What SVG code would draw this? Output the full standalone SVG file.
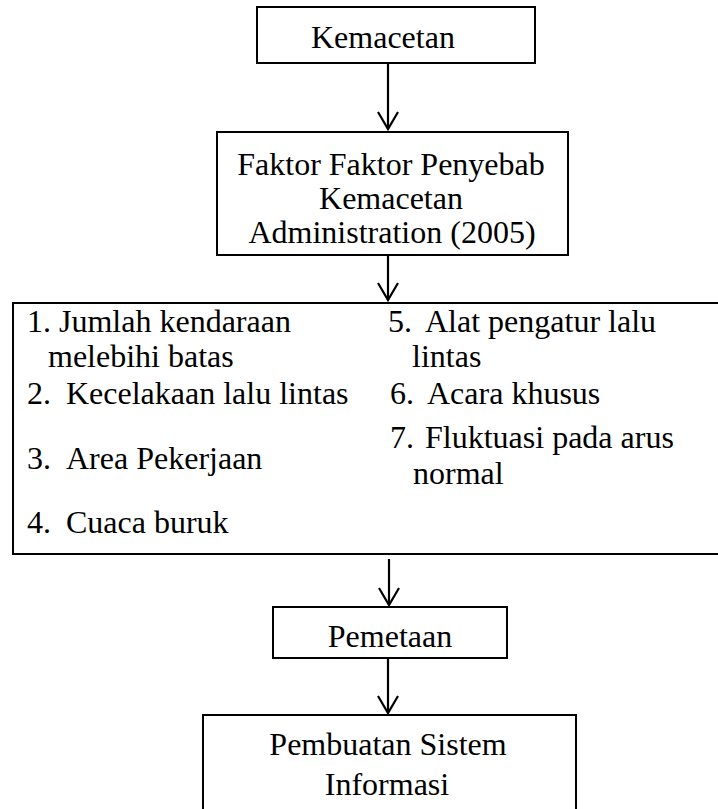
<svg xmlns="http://www.w3.org/2000/svg" width="718" height="809" viewBox="0 0 718 809">
<defs>
<style>
.box{fill:#fff;stroke:#000;stroke-width:2}
.t{font-family:"Liberation Serif","Times New Roman",serif;font-size:32px;fill:#000}
.c{text-anchor:middle}
.ln{stroke:#000;stroke-width:2.2;fill:none}
</style>
<marker id="ah" markerWidth="22" markerHeight="22" refX="19" refY="11" orient="auto" markerUnits="userSpaceOnUse" viewBox="0 0 22 22">
<path d="M2,1 L19,11 L2,21" fill="none" stroke="#000" stroke-width="2.2"/>
</marker>
</defs>
<rect width="718" height="809" fill="#fff"/>
<g id="node-kemacetan">
<rect class="box" x="257" y="7" width="278" height="56"/>
<text class="t" x="311" y="48">Kemacetan</text>
</g>
<g id="node-faktor">
<rect class="box" x="217" y="132" width="351" height="123"/>
<text class="t c" x="391" y="175">Faktor Faktor Penyebab</text>
<text class="t c" x="391" y="209">Kemacetan</text>
<text class="t c" x="392" y="243">Administration (2005)</text>
</g>
<g id="node-list">
<rect class="box" x="13" y="303" width="720" height="251"/>
<text class="t" x="27" y="332">1. Jumlah kendaraan</text>
<text class="t" x="48" y="367">melebihi batas</text>
<text class="t"><tspan x="27" y="404">2.</tspan><tspan x="66">Kecelakaan lalu lintas</tspan></text>
<text class="t"><tspan x="27" y="469">3.</tspan><tspan x="66">Area Pekerjaan</tspan></text>
<text class="t"><tspan x="27" y="533">4.</tspan><tspan x="66">Cuaca buruk</tspan></text>
<text class="t"><tspan x="388" y="332">5.</tspan><tspan x="425">Alat pengatur lalu</tspan></text>
<text class="t" x="412" y="367">lintas</text>
<text class="t"><tspan x="390" y="404">6.</tspan><tspan x="427">Acara khusus</tspan></text>
<text class="t"><tspan x="390" y="448">7.</tspan><tspan x="425">Fluktuasi pada arus</tspan></text>
<text class="t" x="413" y="484">normal</text>
</g>
<g id="node-pemetaan">
<rect class="box" x="273" y="607" width="234" height="51"/>
<text class="t c" x="390" y="647">Pemetaan</text>
</g>
<g id="node-sistem">
<rect class="box" x="203" y="715" width="373" height="110"/>
<text class="t c" x="388" y="755">Pembuatan Sistem</text>
<text class="t c" x="387" y="795">Informasi</text>
</g>
<g id="connectors">
<line class="ln" x1="388" y1="63" x2="388" y2="129" marker-end="url(#ah)"/>
<line class="ln" x1="388" y1="255" x2="388" y2="300" marker-end="url(#ah)"/>
<line class="ln" x1="389" y1="559" x2="389" y2="605" marker-end="url(#ah)"/>
<line class="ln" x1="388" y1="658" x2="388" y2="713" marker-end="url(#ah)"/>
</g>
</svg>
